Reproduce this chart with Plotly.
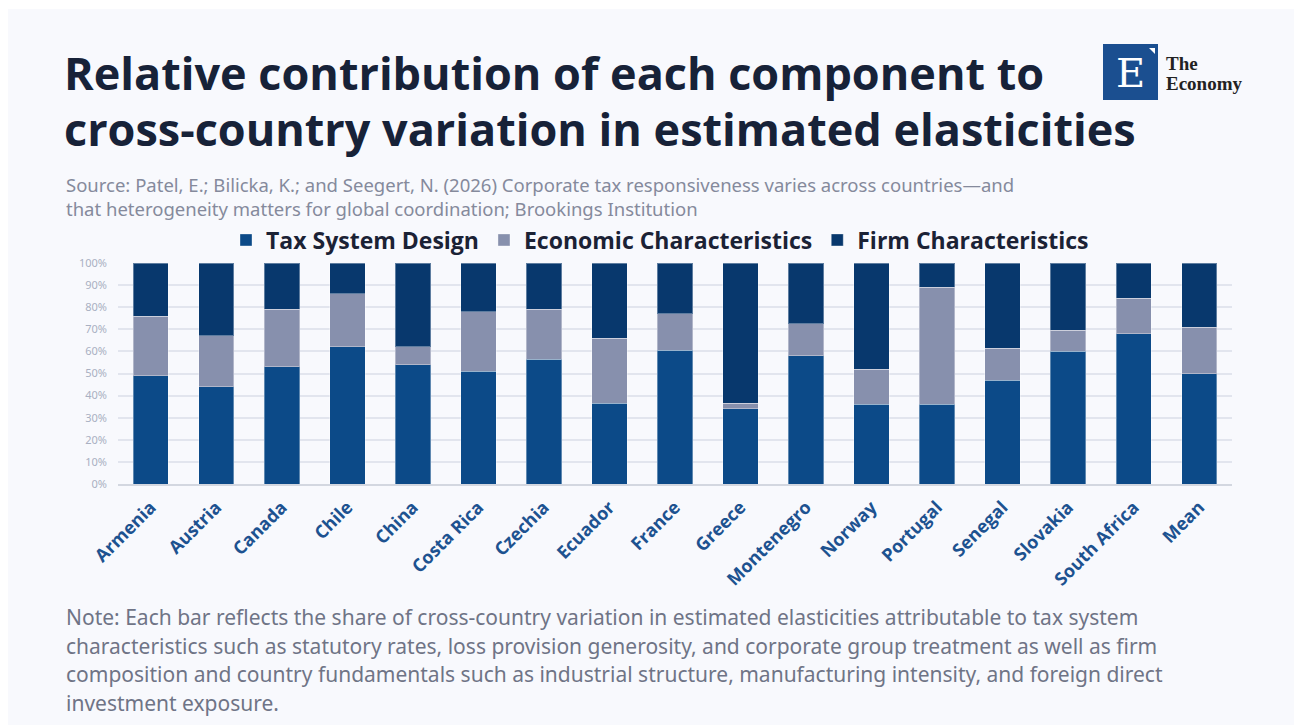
import plotly.graph_objects as go

countries = ["Armenia", "Austria", "Canada", "Chile", "China", "Costa Rica", "Czechia",
             "Ecuador", "France", "Greece", "Montenegro", "Norway", "Portugal", "Senegal",
             "Slovakia", "South Africa", "Mean"]
tax_system = [49, 44, 53, 62, 54, 51, 56.5, 36.5, 60.5, 34, 58, 36, 36, 47, 60, 68, 50]
economic = [27, 23, 26, 24, 8, 27, 22.5, 29.5, 16.5, 2.5, 14.5, 16, 53, 14.5, 9.5, 16, 21]
firm = [24, 33, 21, 14, 38, 22, 21, 34, 23, 63.5, 27.5, 48, 11, 38.5, 30.5, 16, 29]
y_ticks = [0, 10, 20, 30, 40, 50, 60, 70, 80, 90, 100]
y_tick_labels = [f"{v}%" for v in y_ticks]

title_lines = ["Relative contribution of each component to",
               "cross-country variation in estimated elasticities"]
source_lines = ["Source: Patel, E.; Bilicka, K.; and Seegert, N. (2026) Corporate tax responsiveness varies across countries—and",
                "that heterogeneity matters for global coordination; Brookings Institution"]
note_lines = ["Note: Each bar reflects the share of cross-country variation in estimated elasticities attributable to tax system",
              "characteristics such as statutory rates, loss provision generosity, and corporate group treatment as well as firm",
              "composition and country fundamentals such as industrial structure, manufacturing intensity, and foreign direct",
              "investment exposure."]

C_TAX = "#0c4a88"
C_ECO = "#8790ad"
C_FIRM = "#08386d"
BG = "#f8f9fd"

W, H = 1294, 725
PL, PR, PT, PB = 118, 1232, 263, 484


def px(x):
    return (x - PL) / (PR - PL)


def py(y):
    return (PB - y) / (PB - PT)


fig = go.Figure()
line = dict(color="rgba(255,255,255,0.35)", width=1)
fig.add_trace(go.Bar(x=countries, y=tax_system, name="Tax System Design",
                     marker=dict(color=C_TAX, line=line)))
fig.add_trace(go.Bar(x=countries, y=economic, name="Economic Characteristics",
                     marker=dict(color=C_ECO, line=line)))
fig.add_trace(go.Bar(x=countries, y=firm, name="Firm Characteristics",
                     marker=dict(color=C_FIRM, line=line)))

fig.update_layout(
    width=W, height=H,
    barmode="stack", bargap=0.46,
    paper_bgcolor="white", plot_bgcolor=BG,
    margin=dict(l=PL, r=W - PR, t=PT, b=H - PB, pad=0),
    font=dict(family="Noto Sans", color="#6f7486"),
    showlegend=True,
    legend=dict(orientation="h", x=px(660), xanchor="center", y=py(240), yanchor="middle",
                font=dict(family="Open Sans", size=23, color="#1b2235", weight="bold"),
                bgcolor="rgba(0,0,0,0)", itemwidth=30, traceorder="normal",
                itemclick=False),
    xaxis=dict(tickangle=-45, tickfont=dict(family="Open Sans", size=18, color="#1d5290",
                                            weight="bold"),
               showgrid=False, showline=True, linecolor="#d3d7e0", linewidth=1.5,
               ticks="", ticklabelstandoff=4),
    yaxis=dict(range=[0, 100], tickmode="array", tickvals=y_ticks, ticktext=y_tick_labels,
               tickfont=dict(family="Noto Sans", size=11, color="#a9b0c2"),
               showgrid=True, gridcolor="#e2e5ee", gridwidth=1.5, zeroline=False,
               ticks="", ticklabelstandoff=10),
)

shapes = [
    dict(type="rect", xref="paper", yref="paper", x0=px(8), x1=px(1294), y0=py(725), y1=py(9),
         fillcolor=BG, line=dict(width=0), layer="below"),
    dict(type="rect", xref="paper", yref="paper", x0=px(1103), x1=px(1158), y0=py(100), y1=py(44),
         fillcolor="#1b4f90", line=dict(width=0)),
    dict(type="path", xref="paper", yref="paper",
         path=f"M {px(1149)},{py(48)} L {px(1155)},{py(48)} L {px(1155)},{py(54)} Z",
         fillcolor="white", line=dict(width=0)),
]
fig.update_layout(shapes=shapes)

ann = []
for i, t in enumerate(title_lines):
    ann.append(dict(text=f"<b>{t}</b>", x=px(62), y=py(72 + 56 * i), xanchor="left", yanchor="middle",
                    font=dict(family="Open Sans", size=45, color="#172238")))
for i, t in enumerate(source_lines):
    ann.append(dict(text=t, x=px(64), y=py(184 + 24 * i), xanchor="left", yanchor="middle",
                    font=dict(family="Noto Sans", size=18.5, color="#858a9c")))
for i, t in enumerate(note_lines):
    ann.append(dict(text=t, x=px(64), y=py(617 + 28.7 * i), xanchor="left", yanchor="middle",
                    font=dict(family="Noto Sans", size=21, color="#6f7486")))
ann += [
    dict(text="E", x=px(1130), y=py(73), xanchor="center", yanchor="middle",
         font=dict(family="DejaVu Serif", size=40, color="white")),
    dict(text="<b>The</b>", x=px(1164), y=py(63), xanchor="left", yanchor="middle",
         font=dict(family="Liberation Serif", size=19, color="#222222")),
    dict(text="<b>Economy</b>", x=px(1164), y=py(83), xanchor="left", yanchor="middle",
         font=dict(family="Liberation Serif", size=19, color="#222222")),
]
for a in ann:
    a.setdefault("xref", "paper")
    a.setdefault("yref", "paper")
    a.setdefault("showarrow", False)
    a.setdefault("align", "left")
fig.update_layout(annotations=ann)

fig.write_html("out.html")
